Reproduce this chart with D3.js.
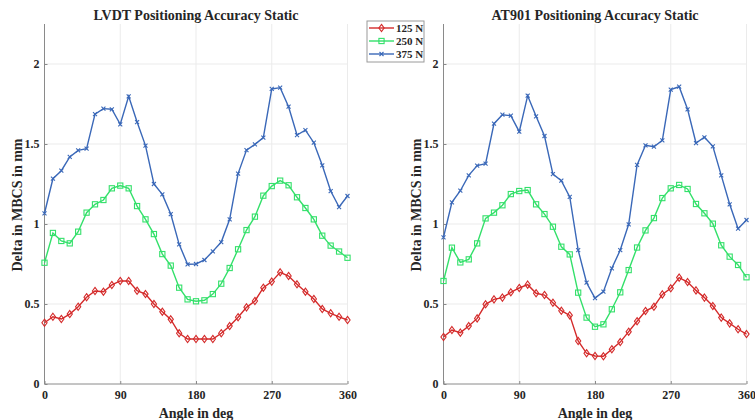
<!DOCTYPE html>
<html lang="en">
<head>
<meta charset="utf-8">
<title>Positioning Accuracy Static</title>
<script src="https://cdnjs.cloudflare.com/ajax/libs/d3/7.8.5/d3.min.js"></script>
<style>
  body { margin: 0; background: #fff; }
  svg text { font-family: "Liberation Serif", "Times New Roman", serif; font-weight: bold; fill: #262626; }
</style>
</head>
<body>
<div id="chart"></div>
<script>
// angle steps, 0..360 every 10 deg
const angles = [0,10,20,30,40,50,60,70,80,90,100,110,120,130,140,150,160,170,180,
  190,200,210,220,230,240,250,260,270,280,290,300,310,320,330,340,350,360];

const lvdt125 = [0.383,0.42,0.406,0.437,0.483,0.542,0.581,0.577,0.619,0.644,0.644,0.583,0.562,0.5,0.452,0.404,0.317,0.281,0.281,
  0.281,0.281,0.317,0.362,0.417,0.479,0.519,0.602,0.64,0.698,0.675,0.623,0.577,0.531,0.469,0.442,0.42,0.4];
const lvdt250 = [0.758,0.944,0.894,0.879,0.952,1.071,1.123,1.15,1.223,1.24,1.223,1.112,1.029,0.937,0.812,0.74,0.602,0.529,0.517,
  0.523,0.562,0.627,0.725,0.842,0.962,1.046,1.177,1.237,1.271,1.242,1.167,1.1,1.029,0.927,0.865,0.828,0.789];
const lvdt375 = [1.067,1.283,1.333,1.419,1.46,1.471,1.687,1.721,1.717,1.623,1.798,1.637,1.49,1.25,1.185,1.062,0.873,0.748,0.75,
  0.775,0.829,0.887,1.029,1.315,1.462,1.498,1.54,1.844,1.852,1.733,1.556,1.587,1.508,1.367,1.206,1.106,1.175];

const at125 = [0.294,0.337,0.321,0.362,0.41,0.498,0.529,0.54,0.573,0.6,0.621,0.567,0.556,0.508,0.458,0.429,0.269,0.192,0.175,
  0.173,0.217,0.262,0.327,0.392,0.456,0.483,0.56,0.598,0.665,0.637,0.585,0.54,0.487,0.415,0.379,0.342,0.312];
const at250 = [0.644,0.852,0.76,0.779,0.879,1.035,1.071,1.117,1.187,1.206,1.212,1.123,1.062,0.983,0.858,0.81,0.571,0.415,0.358,
  0.373,0.467,0.573,0.712,0.853,0.96,1.037,1.162,1.223,1.244,1.219,1.125,1.067,1.002,0.867,0.796,0.744,0.667];
const at375 = [0.917,1.135,1.208,1.304,1.365,1.377,1.627,1.683,1.677,1.577,1.802,1.673,1.55,1.312,1.271,1.169,0.837,0.633,0.537,
  0.577,0.723,0.837,0.998,1.369,1.492,1.483,1.523,1.84,1.858,1.717,1.506,1.542,1.485,1.304,1.123,0.971,1.025];

const seriesNames = ["125 N", "250 N", "375 N"];
const xTicks = [0, 90, 180, 270, 360];
const yTicks = [0, 0.5, 1, 1.5, 2];

const colors = ["#d42a2a", "#33e06a", "#3a68b8"];
const markers = ["diamond", "square", "cross"];

const W = 755, H = 420;
const svg = d3.select("#chart").append("svg")
  .attr("width", W).attr("height", H);

const plotTop = 24, plotBottom = 384;

function drawPanel(x0, x1, title, sets) {
  const x = d3.scaleLinear().domain([0, 360]).range([x0, x1]);
  const y = d3.scaleLinear().domain([0, 2.25]).range([plotBottom, plotTop]);
  const g = svg.append("g");

  // grid
  g.selectAll(".gx").data(xTicks).enter().append("line")
    .attr("x1", d => x(d)).attr("x2", d => x(d))
    .attr("y1", plotTop).attr("y2", plotBottom)
    .attr("stroke", "#ebebeb").attr("stroke-width", 1);
  g.selectAll(".gy").data(yTicks.filter(d => d > 0)).enter().append("line")
    .attr("x1", x0).attr("x2", x1)
    .attr("y1", d => y(d)).attr("y2", d => y(d))
    .attr("stroke", "#ebebeb").attr("stroke-width", 1);

  // axes
  const xAxis = d3.axisBottom(x).tickValues(xTicks).tickSize(-3).tickPadding(6);
  const yAxis = d3.axisLeft(y).tickValues(yTicks).tickSize(-3).tickPadding(5)
    .tickFormat(d => d);
  const ax = g.append("g").attr("transform", `translate(0,${plotBottom})`).call(xAxis);
  const ay = g.append("g").attr("transform", `translate(${x0},0)`).call(yAxis);
  [ax, ay].forEach(a => {
    a.select(".domain").attr("stroke", "#8a8a8a").attr("stroke-width", 1);
    a.selectAll(".tick line").attr("stroke", "#8a8a8a");
    a.selectAll("text").attr("font-size", 12).attr("fill", "#262626")
      .attr("font-family", "Liberation Serif").attr("font-weight", "bold");
  });
  ax.select(".domain").attr("d", `M${x0},0H${x1}`);
  ay.select(".domain").attr("d", `M0,${plotBottom}V${plotTop}`);

  // lines + markers
  sets.forEach((vals, k) => {
    const pts = angles.map((a, i) => [x(a), y(vals[i])]);
    g.append("path")
      .attr("d", d3.line()(pts))
      .attr("fill", "none").attr("stroke", colors[k]).attr("stroke-width", 1.4);
    const mk = g.append("g");
    pts.forEach(p => drawMarker(mk, markers[k], p[0], p[1], colors[k]));
  });

  svg.append("text").attr("x", (x0 + x1) / 2).attr("y", 20)
    .attr("text-anchor", "middle").attr("font-size", 14).text(title);
  svg.append("text").attr("x", (x0 + x1) / 2).attr("y", 418)
    .attr("text-anchor", "middle").attr("font-size", 14).text("Angle in deg");
  svg.append("text")
    .attr("transform", `translate(${x0 - 23},${(plotTop + plotBottom) / 2 + 1}) rotate(-90)`)
    .attr("text-anchor", "middle").attr("font-size", 14).text("Delta in MBCS in mm");
}

function drawMarker(g, type, cx, cy, col) {
  if (type === "diamond") {
    g.append("path")
      .attr("d", `M${cx},${cy - 3.6}L${cx + 2.6},${cy}L${cx},${cy + 3.6}L${cx - 2.6},${cy}Z`)
      .attr("fill", "none").attr("stroke", col).attr("stroke-width", 1.1);
  } else if (type === "square") {
    g.append("rect")
      .attr("x", cx - 2.6).attr("y", cy - 2.6).attr("width", 5.2).attr("height", 5.2)
      .attr("fill", "none").attr("stroke", col).attr("stroke-width", 1.1);
  } else {
    g.append("path")
      .attr("d", `M${cx - 2},${cy - 2}L${cx + 2},${cy + 2}M${cx - 2},${cy + 2}L${cx + 2},${cy - 2}`)
      .attr("stroke", col).attr("stroke-width", 1.1);
  }
}

drawPanel(44.5, 347.5, "LVDT Positioning Accuracy Static", [lvdt125, lvdt250, lvdt375]);
drawPanel(443.5, 746.5, "AT901 Positioning Accuracy Static", [at125, at250, at375]);

// legend
const lg = svg.append("g").attr("transform", "translate(367,21)");
lg.append("rect").attr("width", 57).attr("height", 41)
  .attr("fill", "#fff").attr("stroke", "#9a9a9a").attr("stroke-width", 1);
seriesNames.forEach((name, k) => {
  const yy = 7 + k * 13;
  lg.append("line").attr("x1", 2).attr("x2", 27).attr("y1", yy).attr("y2", yy)
    .attr("stroke", colors[k]).attr("stroke-width", 1.4);
  drawMarker(lg, markers[k], 14.5, yy, colors[k]);
  lg.append("text").attr("x", 29).attr("y", yy + 4).attr("font-size", 11).text(name);
});
</script>
</body>
</html>
